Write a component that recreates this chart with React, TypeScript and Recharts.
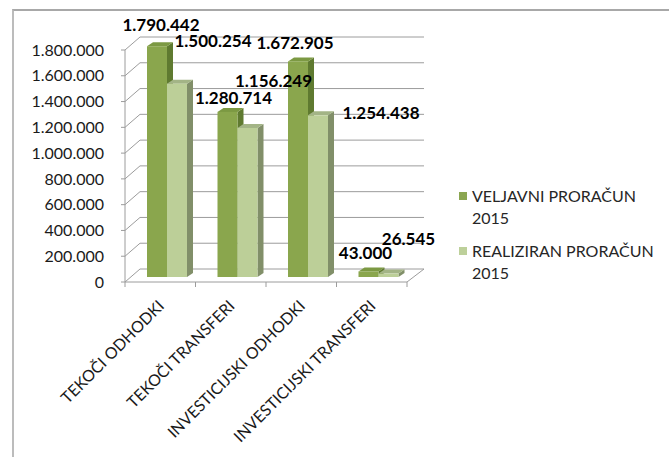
import { Bar, BarChart, CartesianGrid, LabelList, Legend, XAxis, YAxis } from "recharts";

const categories = [
  "TEKOČI ODHODKI",
  "TEKOČI TRANSFERI",
  "INVESTICIJSKI ODHODKI",
  "INVESTICIJSKI TRANSFERI",
];
const veljavni = [1790442, 1280714, 1672905, 43000];
const realiziran = [1500254, 1156249, 1254438, 26545];
const yTicks = [0, 200000, 400000, 600000, 800000, 1000000, 1200000, 1400000, 1600000, 1800000];
const seriesNames = ["VELJAVNI PRORAČUN 2015", "REALIZIRAN PRORAČUN 2015"];

const data = categories.map((name, i) => ({
  name,
  veljavni: veljavni[i],
  realiziran: realiziran[i],
}));

const W = 669;
const H = 457;
const PLOT_LEFT = 125;
const PLOT_RIGHT = 407;
const PLOT_TOP = 50;
const PLOT_BOTTOM = 282;
const X_AXIS_H = 30;
const BAND = (PLOT_RIGHT - PLOT_LEFT) / categories.length;

// 3d look: wall depth and bar placement inside it
const WALL_DX = 15;
const WALL_DY = 13;
const SHIFT_X = 7;
const SHIFT_Y = 5;
const SIDE_DX = 6;
const SIDE_DY = 4;

const FONT = "Lato, 'Open Sans', sans-serif";
const GRID = "#9c9c9c";

const DARK = { front: "#8AA64D", side: "#5F7A30", top: "#7C9943", legend: "#8BA651" };
const LIGHT = { front: "#BCCF98", side: "#818F69", top: "#A3B486", legend: "#BDD09A" };

// Excel-style hand-placed label offsets (relative to bar top centre)
const darkNudge = [[4, -21], [6, -14], [-3, -18], [-3, -18]];
const lightNudge = [[36, -43], [26, -47], [63, -2], [20, -35]];

const fmt = (n: number) => String(Math.round(n)).replace(/\B(?=(\d{3})+(?!\d))/g, ".");

const bar3d = (c: typeof DARK) => (props: any) => {
  const { x, y, width, height } = props;
  if (height == null || width == null) return <g />;
  const fx = x + SHIFT_X;
  const fy = y - SHIFT_Y;
  const r = fx + width;
  const b = fy + height;
  return (
    <g>
      <polygon
        points={`${r},${fy} ${r + SIDE_DX},${fy - SIDE_DY} ${r + SIDE_DX},${b - SIDE_DY} ${r},${b}`}
        fill={c.side}
      />
      <polygon
        points={`${fx},${fy} ${fx + SIDE_DX},${fy - SIDE_DY} ${r + SIDE_DX},${fy - SIDE_DY} ${r},${fy}`}
        fill={c.top}
      />
      <rect x={fx} y={fy} width={width} height={height} fill={c.front} />
    </g>
  );
};

const valueLabel = (nudges: number[][]) => (props: any) => {
  const { x, y, width, value, index } = props;
  const [dx, dy] = nudges[index] || [0, -15];
  return (
    <text
      x={x + SHIFT_X + width / 2 + dx}
      y={y - SHIFT_Y + dy + 6}
      textAnchor="middle"
      fontFamily={FONT}
      fontSize={17}
      fontWeight="bold"
      fill="#000"
    >
      {fmt(value)}
    </text>
  );
};

const wallLine = (props: any) => {
  const { x1, x2, y1, index } = props;
  const isFloor = Math.abs(y1 - PLOT_BOTTOM) < 1;
  let d = `M${x1},${y1} L${x1 + WALL_DX},${y1 - WALL_DY} L${x2 + WALL_DX + 2},${y1 - WALL_DY}`;
  if (isFloor) d += ` M${x2},${y1} L${x2 + WALL_DX + 2},${y1 - WALL_DY}`;
  return <path key={`g-${index}`} d={d} stroke={GRID} strokeWidth={1} fill="none" />;
};

const CategoryTick = (props: any) => {
  const { x, y, payload, index } = props;
  const tx = x + 5;
  const ty = y + 25;
  return (
    <g>
      <line x1={x - BAND / 2} y1={y} x2={x - BAND / 2} y2={y + 5} stroke={GRID} />
      {index === categories.length - 1 && (
        <line x1={x + BAND / 2} y1={y} x2={x + BAND / 2} y2={y + 5} stroke={GRID} />
      )}
      <text
        x={tx}
        y={ty}
        transform={`rotate(-45, ${tx}, ${ty})`}
        textAnchor="end"
        fontFamily={FONT}
        fontSize={16}
        fill="#1a1a1a"
      >
        {payload.value}
      </text>
    </g>
  );
};

const LegendBox = () => (
  <div style={{ fontFamily: FONT, fontSize: 16, color: "#262626", lineHeight: "22px" }}>
    {seriesNames.map((n, i) => {
      const cut = n.lastIndexOf(" ");
      return (
        <div key={n} style={{ display: "flex", marginBottom: 11 }}>
          <span
            style={{
              width: 8,
              height: 8,
              background: i === 0 ? DARK.legend : LIGHT.legend,
              marginTop: 7,
              marginRight: 5,
              flex: "none",
            }}
          />
          <span style={{ whiteSpace: "nowrap" }}>
            {n.slice(0, cut)}
            <br />
            {n.slice(cut + 1)}
          </span>
        </div>
      );
    })}
  </div>
);

export default function App() {
  return (
    <div style={{ position: "absolute", left: 0, top: 0, width: W, height: H, background: "#fff" }}>
      <div
        style={{
          position: "absolute",
          left: 12,
          top: 9,
          width: W - 12,
          height: H - 9,
          borderTop: "2px solid #a8a8a8",
          borderLeft: "2px solid #bcbcbc",
          boxSizing: "border-box",
        }}
      />
      <BarChart
        width={W}
        height={H}
        data={data}
        barGap={0}
        barSize={20}
        margin={{ top: PLOT_TOP, right: W - PLOT_RIGHT, bottom: H - PLOT_BOTTOM - X_AXIS_H, left: 0 }}
        style={{ position: "absolute", left: 0, top: 0 }}
      >
        <CartesianGrid vertical={false} horizontal={wallLine} />
        <YAxis
          width={PLOT_LEFT}
          domain={[0, 1800000]}
          ticks={yTicks}
          interval={0}
          tickFormatter={fmt}
          tickSize={4}
          tickMargin={17}
          axisLine={{ stroke: GRID }}
          tickLine={{ stroke: GRID }}
          tick={{ fontFamily: FONT, fontSize: 16, fill: "#1a1a1a" }}
        />
        <XAxis
          dataKey="name"
          height={X_AXIS_H}
          interval={0}
          tickLine={false}
          tickSize={0}
          tickMargin={0}
          axisLine={{ stroke: GRID }}
          tick={<CategoryTick />}
        />
        <Legend
          layout="vertical"
          align="center"
          verticalAlign="middle"
          content={<LegendBox />}
          wrapperStyle={{ left: 459, top: 185, width: 210 }}
        />
        <Bar dataKey="veljavni" name={seriesNames[0]} fill={DARK.front} shape={bar3d(DARK)} isAnimationActive={false}>
          <LabelList dataKey="veljavni" content={valueLabel(darkNudge)} />
        </Bar>
        <Bar dataKey="realiziran" name={seriesNames[1]} fill={LIGHT.front} shape={bar3d(LIGHT)} isAnimationActive={false}>
          <LabelList dataKey="realiziran" content={valueLabel(lightNudge)} />
        </Bar>
      </BarChart>
    </div>
  );
}
